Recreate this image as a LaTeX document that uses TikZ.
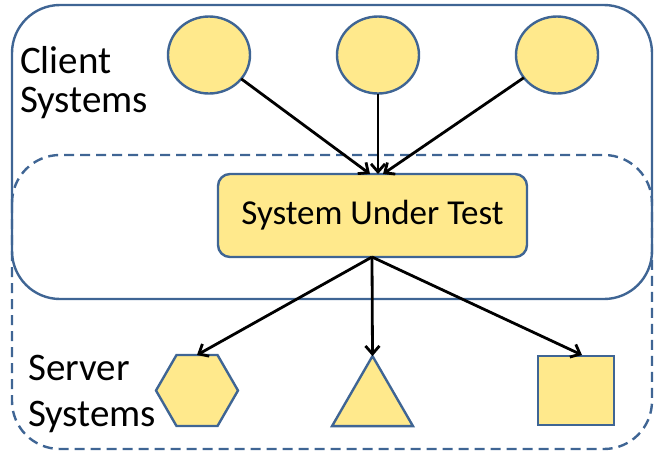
\documentclass[tikz,border=0pt]{standalone}
\usepackage{fontspec}
\setmainfont{Carlito}
\usetikzlibrary{shapes.geometric,arrows.meta,calc}
\definecolor{fillY}{RGB}{255,233,140}
\definecolor{lineB}{RGB}{63,101,148}
\tikzset{
  shp/.style={draw=lineB,fill=fillY,line width=2.4pt,inner sep=0pt,outer sep=0pt},
  arr/.style={draw=black,line width=2.8pt,-{Straight Barb[length=8pt,width=14pt,line width=2.8pt]}},
  lbl/.style={align=left,inner sep=0pt,anchor=base west},
}
\begin{document}
\begin{tikzpicture}[x=1pt,y=-1pt]
\useasboundingbox (0,0) rectangle (664,456);
% groups
\draw[lineB,line width=2.4pt,rounded corners=48pt] (12,5) rectangle (652,299);
\draw[lineB,line width=2.4pt,dash pattern=on 10pt off 6pt,rounded corners=48pt] (12,155) rectangle (652,449);
% labels
\node[lbl,font=\fontsize{39}{39}\selectfont] (cl) at (20,112) {Client\\Systems};
\node[lbl,font=\fontsize{39}{46}\selectfont] (sl) at (28,426) {Server\\Systems};
% clients
\node[shp,ellipse,minimum width=82pt,minimum height=77pt] (c1) at (209,55) {};
\node[shp,ellipse,minimum width=82pt,minimum height=77pt] (c2) at (378,55) {};
\node[shp,ellipse,minimum width=82pt,minimum height=77pt] (c3) at (557,55) {};
% SUT
\node[shp,rounded corners=12pt,minimum width=309pt,minimum height=83pt,font=\fontsize{35}{38}\selectfont] (sut) at (372.5,215.5) {System Under Test};
% servers
\node[shp,regular polygon,regular polygon sides=6,minimum size=82pt] (hex) at (197,390.5) {};
\node[shp,regular polygon,regular polygon sides=3,minimum size=93.5pt] (tri) at (372.5,402.8) {};
\node[shp,rectangle,minimum width=76pt,minimum height=69pt] (sq) at (576,390.5) {};
% arrow targets
\coordinate (t1) at (370,174);
\coordinate (t2) at (378,174);
\coordinate (t3) at (383,174);
\coordinate (s0) at (372,257);
\coordinate (b3) at (582,355);
\draw[arr] (c1) -- (t1);
\draw[arr] (c2) -- (t2);
\draw[arr] (c3) -- (t3);
\draw[arr] (s0) -- (hex.north);
\draw[arr] (s0) -- (tri.north);
\draw[arr] (s0) -- (b3);
\end{tikzpicture}
\end{document}
